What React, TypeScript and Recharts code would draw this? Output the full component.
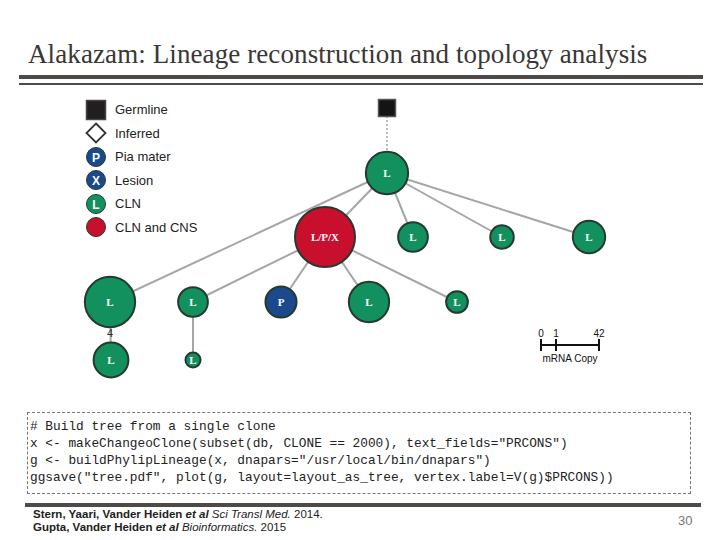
import React from "react";
import { ScatterChart, Scatter, XAxis, YAxis, ZAxis } from "recharts";

// tree nodes (layout from the plotted tree)
const nodeX = [387, 387, 325, 413, 502, 589, 110, 193, 281, 369, 457, 111, 193];
const nodeY = [108, 173, 237, 237, 237, 237, 302, 302, 302, 302, 302, 360, 360];
const nodeCopies = [0, 20, 42, 9, 5, 11, 29, 9, 10, 18, 4, 13, 1];
const nodeLabel = ["", "L", "L/P/X", "L", "L", "L", "L", "L", "P", "L", "L", "L", "L"];
const nodeKind = ["germline", "cln", "both", "cln", "cln", "cln", "cln", "cln", "pia", "cln", "cln", "cln", "cln"];

// edges (parent -> child)
const edgeFrom = [0, 1, 1, 1, 1, 1, 2, 2, 2, 2, 6, 7];
const edgeTo = [1, 2, 3, 4, 5, 6, 7, 8, 9, 10, 11, 12];
const edgeLabel = ["", "", "", "", "", "", "", "", "", "", "4", ""];

const legendLabels = ["Germline", "Inferred", "Pia mater", "Lesion", "CLN", "CLN and CNS"];
const legendKinds = ["germline", "inferred", "pia", "lesion", "cln", "both"];
const legendLetters = ["", "", "P", "X", "L", ""];

const scaleTicks = ["0", "1", "42"];

const codeLines = [
  "# Build tree from a single clone",
  'x <- makeChangeoClone(subset(db, CLONE == 2000), text_fields="PRCONS")',
  'g <- buildPhylipLineage(x, dnapars="/usr/local/bin/dnapars")',
  'ggsave("tree.pdf", plot(g, layout=layout_as_tree, vertex.label=V(g)$PRCONS))',
];

const FILL: Record<string, string> = {
  germline: "#141414",
  inferred: "#ffffff",
  pia: "#1a4a8c",
  lesion: "#1a4a8c",
  cln: "#12915f",
  both: "#c8102e",
};
const OUTLINE = "#263a30";
const EDGE = "#a6a6a6";

const nodes = nodeX.map((x, i) => ({
  x,
  y: nodeY[i],
  copies: nodeCopies[i],
  label: nodeLabel[i],
  kind: nodeKind[i],
}));

const NodeShape = (props: any) => {
  const { cx, cy, width, payload } = props;
  if (payload.kind === "germline") {
    return (
      <rect x={cx - 8.5} y={cy - 8.5} width={17} height={17} fill={FILL.germline} stroke="#555" strokeWidth={1.5} />
    );
  }
  const r = width / 2;
  return (
    <g>
      <circle cx={cx} cy={cy} r={r} fill={FILL[payload.kind]} stroke={OUTLINE} strokeWidth={2} />
      <text
        x={cx}
        y={cy + 4}
        textAnchor="middle"
        fill="#ffffff"
        fontFamily="Liberation Serif, serif"
        fontWeight="bold"
        fontSize={11}
      >
        {payload.label}
      </text>
    </g>
  );
};

const Empty = () => <g />;

const EdgeLabelShape = (props: any) => {
  const { cx, cy, payload } = props;
  if (!payload.label) return <g />;
  return (
    <text x={cx} y={cy + 4} textAnchor="middle" fontFamily="Liberation Sans, sans-serif" fontSize={11} fill="#333">
      {payload.label}
    </text>
  );
};

function LegendIcon({ kind, letter }: { kind: string; letter: string }) {
  return (
    <svg width={22} height={22} style={{ display: "block" }}>
      {kind === "germline" && <rect x={1.5} y={1.5} width={19} height={19} fill="#221e1e" stroke="#444" strokeWidth={1.5} />}
      {kind === "inferred" && (
        <polygon points="11,1.5 20.5,11 11,20.5 1.5,11" fill="#fff" stroke="#333" strokeWidth={1.8} />
      )}
      {kind !== "germline" && kind !== "inferred" && (
        <g>
          <circle cx={11} cy={11} r={9.5} fill={FILL[kind]} stroke={OUTLINE} strokeWidth={1} />
          <text x={11} y={15.5} textAnchor="middle" fill="#fff" fontFamily="Liberation Sans, sans-serif" fontWeight="bold" fontSize={12}>
            {letter}
          </text>
        </g>
      )}
    </svg>
  );
}

export default function App() {
  return (
    <div style={{ position: "absolute", left: 0, top: 0, width: 720, height: 540, background: "#fff", overflow: "hidden" }}>
      {/* title */}
      <div
        style={{
          position: "absolute",
          left: 28,
          top: 39,
          fontFamily: "Liberation Serif, serif",
          fontSize: 27,
          color: "#3a3636",
          whiteSpace: "nowrap",
          letterSpacing: 0.1,
        }}
      >
        Alakazam: Lineage reconstruction and topology analysis
      </div>
      <div style={{ position: "absolute", left: 19, top: 75, width: 684, height: 4, background: "#4e4a48" }} />
      <div style={{ position: "absolute", left: 19, top: 83, width: 684, height: 2, background: "#4e4a48" }} />

      {/* tree */}
      <div style={{ position: "absolute", left: 0, top: 0 }}>
        <ScatterChart width={720} height={540} margin={{ top: 0, right: 0, bottom: 0, left: 0 }}>
          <XAxis type="number" dataKey="x" domain={[0, 720]} hide allowDataOverflow />
          <YAxis type="number" dataKey="y" domain={[0, 540]} reversed hide allowDataOverflow />
          <ZAxis type="number" dataKey="copies" domain={[0, 42]} range={[113, 2827]} />
          {edgeFrom.map((f, i) => (
            <Scatter
              key={`edge-${i}`}
              data={[nodes[f], nodes[edgeTo[i]]]}
              line={{
                stroke: EDGE,
                strokeWidth: f === 0 ? 1.5 : 2,
                strokeDasharray: f === 0 ? "2 2" : undefined,
              }}
              lineType="joint"
              shape={Empty}
              isAnimationActive={false}
            />
          ))}
          <Scatter data={nodes} shape={NodeShape} isAnimationActive={false} />
          <Scatter
            data={edgeFrom.map((f, i) => ({
              x: nodes[f].x,
              y: nodes[f].y + (nodes[edgeTo[i]].y - nodes[f].y) * 0.53,
              label: edgeLabel[i],
              copies: 0,
            }))}
            shape={EdgeLabelShape}
            isAnimationActive={false}
          />
        </ScatterChart>
      </div>

      {/* legend */}
      <div style={{ position: "absolute", left: 85, top: 98 }}>
        {legendLabels.map((lab, i) => (
          <div key={lab} style={{ display: "flex", alignItems: "center", height: 23.5 }}>
            <LegendIcon kind={legendKinds[i]} letter={legendLetters[i]} />
            <span style={{ marginLeft: 8, fontFamily: "Liberation Sans, sans-serif", fontSize: 13, color: "#222" }}>{lab}</span>
          </div>
        ))}
      </div>

      {/* size scale */}
      <svg style={{ position: "absolute", left: 530, top: 325 }} width={90} height={45}>
        <line x1={11} y1={20} x2={69} y2={20} stroke="#111" strokeWidth={2} />
        {[11, 26, 69].map((x, i) => (
          <g key={i}>
            <line x1={x} y1={14} x2={x} y2={26} stroke="#111" strokeWidth={2} />
            <text x={x} y={12} textAnchor="middle" fontFamily="Liberation Sans, sans-serif" fontSize={10} fill="#111">
              {scaleTicks[i]}
            </text>
          </g>
        ))}
        <text x={40} y={37} textAnchor="middle" fontFamily="Liberation Sans, sans-serif" fontSize={10} fill="#111">
          mRNA Copy
        </text>
      </svg>

      {/* code box */}
      <div
        style={{
          position: "absolute",
          left: 27,
          top: 412,
          width: 664,
          height: 82,
          border: "1px dashed #777",
          boxSizing: "border-box",
          padding: "5px 0 0 2px",
          fontFamily: "Liberation Mono, monospace",
          fontSize: 12.8,
          lineHeight: "17px",
          color: "#222",
          whiteSpace: "pre",
        }}
      >
        {codeLines.join("\n")}
      </div>

      {/* footer */}
      <div style={{ position: "absolute", left: 25, top: 503, width: 676, height: 4, background: "#4e4a48" }} />
      <div
        style={{
          position: "absolute",
          left: 33,
          top: 508,
          fontFamily: "Liberation Sans Narrow, Liberation Sans, sans-serif",
          fontSize: 11.5,
          lineHeight: "13px",
          color: "#222",
          whiteSpace: "nowrap",
        }}
      >
        <div>
          <b>Stern, Yaari, Vander Heiden </b>
          <b><i>et al</i></b> <i>Sci Transl Med.</i> 2014.
        </div>
        <div>
          <b>Gupta, Vander Heiden </b>
          <b><i>et al</i></b> <i>Bioinformatics.</i> 2015
        </div>
      </div>
      <div
        style={{
          position: "absolute",
          left: 678,
          top: 513,
          fontFamily: "Liberation Sans Narrow, Liberation Sans, sans-serif",
          fontSize: 13,
          color: "#777",
        }}
      >
        30
      </div>
    </div>
  );
}
